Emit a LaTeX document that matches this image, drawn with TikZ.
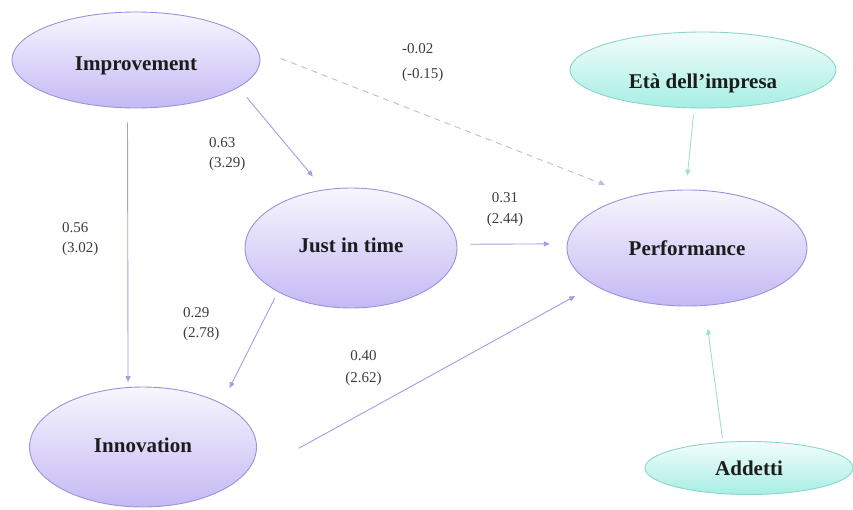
\documentclass[tikz,border=0pt]{standalone}
\usepackage{fontspec}
\setmainfont{Liberation Serif}
\usetikzlibrary{shapes.geometric,arrows.meta}

\definecolor{lavtop}{HTML}{F8F6FE}
\definecolor{lavbot}{HTML}{C4B9F4}
\definecolor{lavedge}{HTML}{9C92DA}
\definecolor{aquatop}{HTML}{F3FDFB}
\definecolor{aquabot}{HTML}{A6EEE4}
\definecolor{aquaedge}{HTML}{8BD5CB}
\definecolor{lavline}{HTML}{A49DE2}
\definecolor{dashline}{HTML}{BDB7EC}
\definecolor{aqualine}{HTML}{9EDFD5}
\definecolor{inktext}{HTML}{1C1C1C}
\definecolor{coeftext}{HTML}{3C3C3C}

% shift a label vertically while keeping its natural box size
\newcommand{\nudge}[2]{\raisebox{#1}[\height][\depth]{#2}}

\begin{document}
\begin{tikzpicture}[x=1pt,y=-1pt,
  latent/.style={ellipse, draw=lavedge, line width=0.9pt,
    top color=lavtop, bottom color=lavbot, inner sep=0pt,
    font=\fontsize{21}{25}\selectfont\bfseries, text=inktext},
  control/.style={latent, draw=aquaedge, top color=aquatop, bottom color=aquabot},
  effect/.style={draw=lavline, line width=0.9pt, -{Triangle[length=6pt,width=5pt]}},
  ctrleffect/.style={effect, draw=aqualine},
  weakeffect/.style={effect, draw=dashline, dash pattern=on 6pt off 5pt},
  coef/.style={inner sep=0pt, font=\fontsize{15}{20}\selectfont, text=coeftext}
]
\useasboundingbox (0,0) rectangle (853,509);

% constructs
\node[latent, minimum width=248pt, minimum height=96pt] (imp) at (136,60) {\nudge{-6pt}{Improvement}};
\node[latent, minimum width=212pt, minimum height=120pt] (jit) at (351,248) {\nudge{3pt}{Just in time}};
\node[latent, minimum width=240pt, minimum height=116pt] (perf) at (687,248) {Performance};
\node[latent, minimum width=227pt, minimum height=120pt] (inn) at (143,447) {\nudge{2pt}{Innovation}};
% control variables
\node[control, minimum width=266pt, minimum height=76pt] (eta) at (703,70) {\nudge{-13pt}{Età dell'impresa}};
\node[control, minimum width=208pt, minimum height=53pt] (add) at (749,468) {Addetti};

% structural paths
\draw[effect, shorten <=14pt, shorten >=5pt] (imp.260) -- (inn.104);
\draw[effect, shorten <=13pt, shorten >=17pt] (imp.345) -- (jit.115);
\draw[weakeffect, shorten <=25pt, shorten >=30pt] (imp.5) -- (perf.136);
\draw[effect, shorten <=7pt, shorten >=17pt] (jit.211) -- (inn.29);
\draw[effect, shorten <=13pt, shorten >=17pt] (jit.2) -- (perf.178);
\draw[effect, shorten <=86pt, shorten >=22pt] (inn.-28) -- (perf.202);
\draw[ctrleffect, shorten <=7pt, shorten >=14pt] (eta.257) -- (perf.91);
\draw[ctrleffect, shorten <=4pt, shorten >=23pt] (add.135) -- (perf.287);

% coefficients (t-values)
\node[coef, anchor=north west, align=left, font=\fontsize{15}{25}\selectfont] (cImpPerf) at (402,42.9) {-0.02\\(-0.15)};
\node[coef, anchor=north west, align=left] (cImpJit) at (209,136.9) {0.63\\(3.29)};
\node[coef, anchor=north west, align=left] (cImpInn) at (62,221.9) {0.56\\(3.02)};
\node[coef, anchor=north west, align=left] (cJitInn) at (183,306.9) {0.29\\(2.78)};
\node[coef, anchor=north, align=center, font=\fontsize{15}{22}\selectfont] (cInnPerf) at (363.5,349.9) {0.40\\(2.62)};
\node[coef, anchor=north, align=center, font=\fontsize{15}{21}\selectfont] (cJitPerf) at (505,191.9) {0.31\\(2.44)};
\end{tikzpicture}
\end{document}
